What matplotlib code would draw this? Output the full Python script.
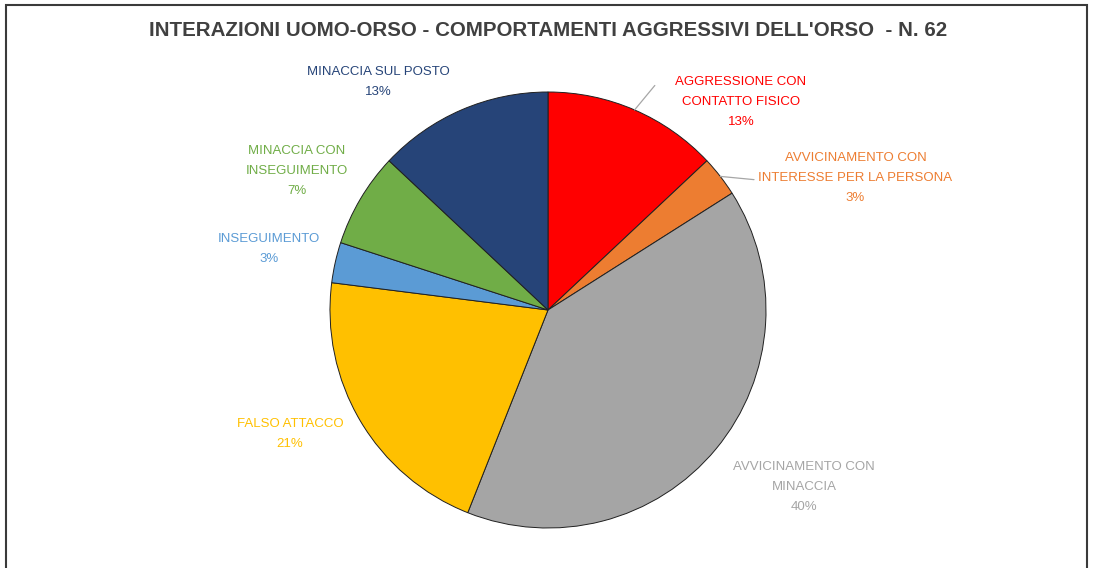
import matplotlib.pyplot as plt
import numpy as np
from matplotlib.patches import Rectangle

plt.rcParams['font.family'] = ['Liberation Sans', 'DejaVu Sans']

categories = ['AGGRESSIONE CON\nCONTATTO FISICO',
              'AVVICINAMENTO CON\nINTERESSE PER LA PERSONA',
              'AVVICINAMENTO CON\nMINACCIA',
              'FALSO ATTACCO',
              'INSEGUIMENTO',
              'MINACCIA CON\nINSEGUIMENTO',
              'MINACCIA SUL POSTO']
percent = [13, 3, 40, 21, 3, 7, 13]
colors = ['#FF0000', '#ED7D31', '#A5A5A5', '#FFC000', '#5B9BD5', '#70AD47', '#264478']
title = "INTERAZIONI UOMO-ORSO - COMPORTAMENTI AGGRESSIVI DELL'ORSO  - N. 62"

# label centres (pie radius = 1)
label_pos = [(0.885, 0.954), (1.41, 0.606), (1.174, -0.812), (-1.183, -0.569),
             (-1.28, 0.28), (-1.151, 0.638), (-0.78, 1.046)]
# leader line ends for the labels that have one
leader_end = {0: (0.49, 1.03), 1: (0.945, 0.598)}

W, H = 1093, 568
cx, cy, r = 548, 310, 218

fig = plt.figure(figsize=(W / 100, H / 100), dpi=100)
ax = fig.add_axes([0, 0, 1, 1])

wedges, _ = ax.pie(percent, colors=colors, startangle=90, counterclock=False,
                   radius=1, wedgeprops=dict(edgecolor='#202020', linewidth=0.7))
ax.set_xlim(-cx / r, (W - cx) / r)
ax.set_ylim(-(H - cy) / r, cy / r)
ax.set_aspect('auto')
ax.axis('off')

for i, (lab, v, c) in enumerate(zip(categories, percent, colors)):
    x, y = label_pos[i]
    ax.text(x, y, f'{lab}\n{v}%', ha='center', va='center', color=c,
            fontsize=9.5, linespacing=1.85)
    if i in leader_end:
        w = wedges[i]
        ang = np.deg2rad((w.theta1 + w.theta2) / 2)
        ax.annotate('', xy=(np.cos(ang), np.sin(ang)), xytext=leader_end[i],
                    arrowprops=dict(arrowstyle='-', color='#A6A6A6', lw=0.9,
                                    shrinkA=0, shrinkB=0))

fig.text(548 / W, 1 - 31 / H, title, ha='center', va='center', fontsize=14.8,
         fontweight='bold', color='#404040')

fig.patches.append(Rectangle((6 / W, -0.05), (1087 - 6) / W, 1.05 - 5 / H,
                             transform=fig.transFigure, fill=False,
                             edgecolor='#3a3a3a', linewidth=1.5))

fig.savefig('out.png', dpi=100, facecolor='white')
